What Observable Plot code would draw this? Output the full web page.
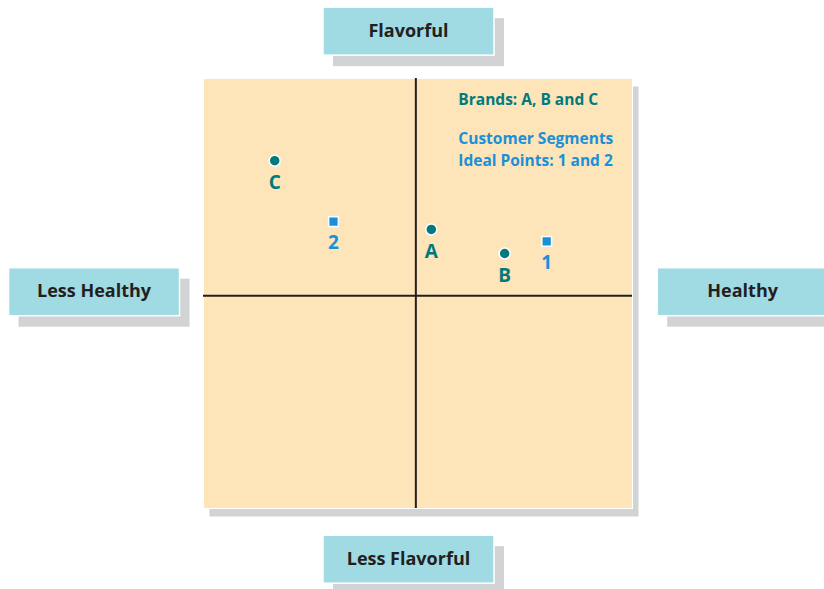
<!DOCTYPE html>
<html>
<head>
<meta charset="utf-8">
<script src="https://cdn.jsdelivr.net/npm/d3@7"></script>
<script src="https://cdn.jsdelivr.net/npm/@observablehq/plot@0.6"></script>
<style>
  html, body { margin: 0; padding: 0; background: #ffffff; }
  #chart { width: 824px; height: 589px; overflow: hidden; }
</style>
</head>
<body>
<div id="chart"></div>
<script>
// Brands (circles)
const brandNames = ["A", "B", "C"];
const brandHealth = [0.36, 2.07, -3.29];
const brandFlavor = [1.54, 0.98, 3.14];

// Customer segment ideal points (squares)
const segmentNames = ["1", "2"];
const segmentHealth = [3.05, -1.92];
const segmentFlavor = [1.26, 1.72];

// Axis end labels
const axisLabels = ["Flavorful", "Less Flavorful", "Less Healthy", "Healthy"];
const axisLabelX = [-0.16, -0.16, -7.49, 7.63];
const axisLabelY = [6.14, -6.14, 0.08, 0.08];

// Legend lines
const legendLines = ["Brands: A, B and C", "Customer Segments", "Ideal Points: 1 and 2"];
const legendY = [4.54, 3.65, 3.14];

const brands = brandNames.map((n, i) => ({name: n, x: brandHealth[i], y: brandFlavor[i]}));
const segments = segmentNames.map((n, i) => ({name: n, x: segmentHealth[i], y: segmentFlavor[i]}));
const labels = axisLabels.map((t, i) => ({text: t, x: axisLabelX[i], y: axisLabelY[i]}));
const legend = legendLines.map((t, i) => ({text: t, x: 0.99, y: legendY[i], kind: i === 0 ? "brand" : "segment"}));

const TEAL = "#007a7c";
const BLUE = "#1a90d8";
const FONT = "'Open Sans', 'Noto Sans', sans-serif";

function labelBoxes(index, scales) {
  const g = d3.create("svg:g");
  const W = 171, H = 48;
  for (const d of labels) {
    const cx = scales.x(d.x), cy = scales.y(d.y);
    g.append("rect").attr("x", cx - W / 2 + 10).attr("y", cy - H / 2 + 11)
      .attr("width", W).attr("height", H).attr("fill", "#d1d3d4");
    g.append("rect").attr("x", cx - W / 2).attr("y", cy - H / 2)
      .attr("width", W).attr("height", H).attr("fill", "#a0dae3")
      .attr("stroke", "#ffffff").attr("stroke-width", 1.5);
    g.append("text").attr("x", cx).attr("y", cy - 1.5)
      .attr("text-anchor", "middle").attr("dominant-baseline", "central")
      .attr("font-family", FONT).attr("font-weight", 700).attr("font-size", 18)
      .attr("fill", "#231f20").text(d.text);
  }
  return g.node();
}

const chart = Plot.plot({
  width: 824,
  height: 589,
  marginLeft: 203,
  marginRight: 192,
  marginTop: 78,
  marginBottom: 81,
  x: {domain: [-4.95, 5.05], axis: null},
  y: {domain: [-4.95, 5.05], axis: null},
  style: {fontFamily: FONT, background: "#ffffff", overflow: "visible"},
  marks: [
    Plot.frame({fill: "#d1d3d4", stroke: null, dx: 6, dy: 8}),
    Plot.frame({fill: "#fde4b9", stroke: "#ffffff", strokeWidth: 1}),
    Plot.ruleX([0], {stroke: "#231f20", strokeWidth: 2}),
    Plot.ruleY([0], {stroke: "#231f20", strokeWidth: 2}),
    labelBoxes,
    Plot.dot(brands, {x: "x", y: "y", r: 5.5, fill: TEAL, stroke: "#ffffff", strokeWidth: 1.5}),
    Plot.text(brands, {x: "x", y: "y", text: "name", dy: 22, fill: TEAL, fontWeight: 700, fontSize: 19}),
    Plot.dot(segments, {x: "x", y: "y", symbol: "square", r: 5.5, fill: BLUE, stroke: "#ffffff", strokeWidth: 1.5}),
    Plot.text(segments, {x: "x", y: "y", text: "name", dy: 21, fill: BLUE, fontWeight: 700, fontSize: 19}),
    Plot.text(legend, {x: "x", y: "y", text: "text", textAnchor: "start", fill: d => d.kind === "brand" ? TEAL : BLUE, fontWeight: 700, fontSize: 15.5})
  ]
});

document.getElementById("chart").appendChild(chart);
</script>
</body>
</html>
